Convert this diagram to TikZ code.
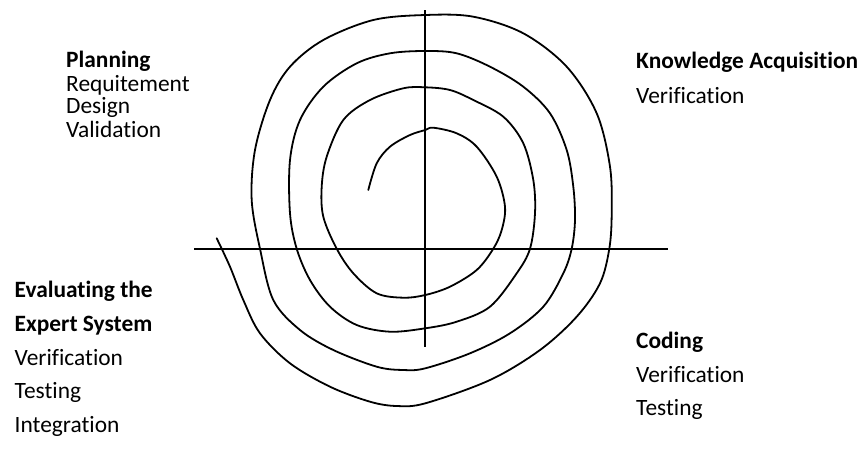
\documentclass[tikz,border=0pt]{standalone}
\usepackage{fontspec}
\setmainfont{Carlito}[Ligatures={NoCommon,NoRare},Contextuals={NoAlternate}]
\begin{document}
\begin{tikzpicture}[x=1pt,y=-1pt,
  lbl/.style={anchor=base west,inner sep=0pt,font=\fontsize{23.4}{25}\selectfont},
  hd/.style={lbl,font=\fontsize{23.4}{25}\selectfont\bfseries},
  ln/.style={line width=1.8pt,black}]
\useasboundingbox (0,0) rectangle (865,459);
% axes
\draw[ln] (425.3,10) -- (425.3,347);
\draw[ln] (194,248.7) -- (668,248.7);
% spiral
\draw[ln,line join=round,line cap=round] plot[smooth,tension=0.55] coordinates {
(368.3,190) (376.7,163.3) (390,146.7) (410,135) (425.3,130) (433.3,127.7) (456.7,133.3) (476.7,146.7) (496.7,176.7) (505,206.7) (501.7,230) (493.3,248.7) (476.7,270) (450,286.7) (425.3,295) (403.3,297.7) (376.7,293.3) (353.3,273.3) (336.7,248.7) (323.3,216.7) (321.7,186.7) (326.7,156.7) (343.3,120) (370,100) (403.3,88.3) (425.3,87.3) (450,90) (473.3,100) (503.3,116.7) (523.3,143.3) (533.3,180) (535,213.3) (530,248.7) (516.7,273.3) (490,306.7) (456.7,321.7) (425.3,328.3) (390,331.7) (356.7,325) (330,306.7) (310,280) (296.7,248.7) (290,213.3) (290,160) (300,120) (323.3,86.7) (356.7,63.3) (390,53.3) (425.3,51) (456.7,53.3) (490,66.7) (523.3,86.7) (550,113.3) (566.7,150) (573.3,186.7) (575,220) (571.7,248.7) (563.3,273.3) (543.3,306.7) (510,333.3) (470,353.3) (425.3,368.3) (403.3,370) (376.7,366.7) (333.3,350) (300,330) (273.3,300) (260,248.7) (251.7,200) (255,150) (270,100) (290,66.7) (323.3,40) (373.3,20) (425.3,15) (473.3,16.7) (523.3,33.3) (566.7,66.7) (596.7,113.3) (610,166.7) (611.7,213.3) (609.3,248.7) (600,283.3) (576.7,316.7) (540,350) (490,380) (425.3,403.3) (396.7,406) (370,401.7) (330,386.7) (290,363.3) (260,333.3) (243.3,300) (230,266.7) (216.7,238.3)};
% texts
\node[hd]  (p1) at (66,67)  {Planning};
\node[lbl] (p2) at (66,91)  {Requitement};
\node[lbl] (p3) at (66,113) {Design};
\node[lbl] (p4) at (66,137) {Validation};
\node[hd]  (k1) at (636,68)  {Knowledge Acquisition};
\node[lbl] (k2) at (636,103) {Verification};
\node[hd]  (e1) at (14.5,297) {Evaluating the};
\node[hd]  (e2) at (14.5,331) {Expert System};
\node[lbl] (e3) at (14.5,365) {Verification};
\node[lbl] (e4) at (14.5,398) {Testing};
\node[lbl] (e5) at (14.5,432) {Integration};
\node[hd]  (c1) at (636,348) {Coding};
\node[lbl] (c2) at (636,382) {Verification};
\node[lbl] (c3) at (636,415) {Testing};
\end{tikzpicture}
\end{document}
